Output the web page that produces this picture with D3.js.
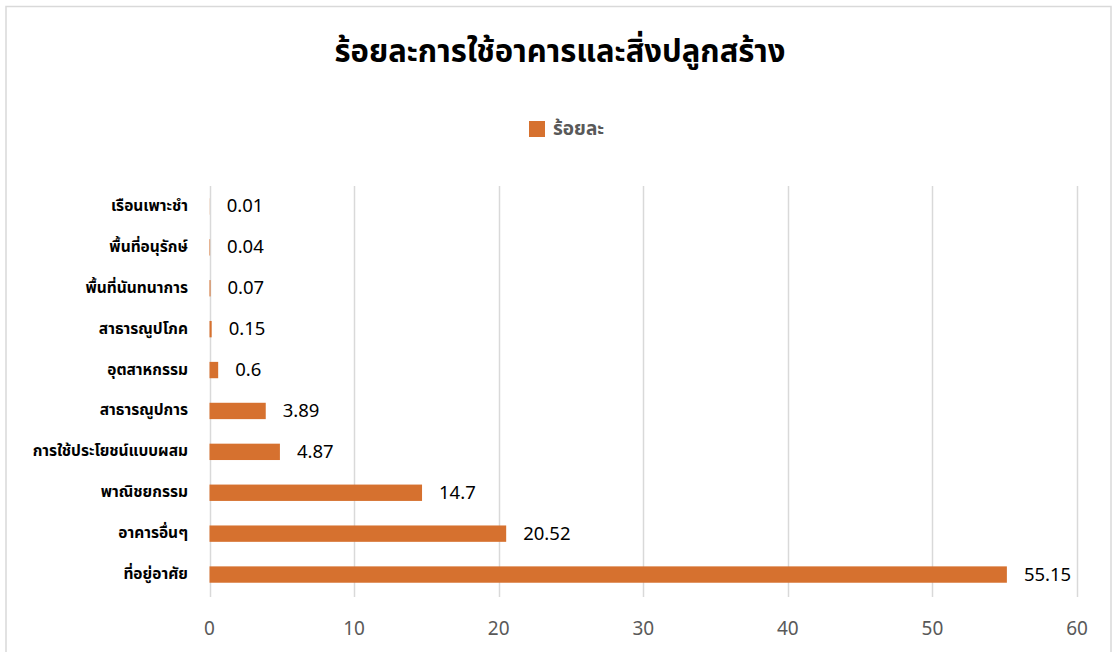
<!DOCTYPE html>
<html><head><meta charset="utf-8">
<script src="https://cdn.jsdelivr.net/npm/d3@7"></script>
<style>
body{margin:0;background:#fff;}
svg{display:block;}
text{font-family:Tahoma,"Noto Sans Thai","Leelawadee UI","Noto Sans","DejaVu Sans",sans-serif;}
</style></head>
<body><svg id="c" width="1117" height="652"></svg>
<script>
const categories = ["เรือนเพาะชำ","พื้นที่อนุรักษ์","พื้นที่นันทนาการ","สาธารณูปโภค","อุตสาหกรรม","สาธารณูปการ","การใช้ประโยชน์แบบผสม","พาณิชยกรรม","อาคารอื่นๆ","ที่อยู่อาศัย"];
const values = [0.01,0.04,0.07,0.15,0.6,3.89,4.87,14.7,20.52,55.15];
const valueLabels = ["0.01","0.04","0.07","0.15","0.6","3.89","4.87","14.7","20.52","55.15"];
const tickValues = [0,10,20,30,40,50,60];
const title = "ร้อยละการใช้อาคารและสิ่งปลูกสร้าง";
const seriesName = "ร้อยละ";

const svg = d3.select("#c");
const barColor="#d6712f";
// chart border
svg.append("rect").attr("x",6).attr("y",6.5).attr("width",1105).attr("height",660)
  .attr("fill","#fff").attr("stroke","#d9d9d9").attr("stroke-width",1.5);

const m={left:209.5,right:1077,top:186,bottom:595};
const x=d3.scaleLinear().domain([0,60]).range([m.left,m.right]);
const y=d3.scaleBand().domain(categories).range([m.top,m.bottom]).paddingInner(0.6).paddingOuter(0.3);

// gridlines
svg.append("g").selectAll("line").data(tickValues).join("line")
  .attr("x1",d=>Math.round(x(d))+0.5).attr("x2",d=>Math.round(x(d))+0.5)
  .attr("y1",m.top).attr("y2",m.bottom+2)
  .attr("stroke","#d9d9d9").attr("stroke-width",1.5);

// x tick labels
svg.append("g").selectAll("text").data(tickValues).join("text")
  .attr("x",d=>x(d)).attr("y",629).attr("text-anchor","middle").attr("dominant-baseline","central")
  .attr("fill","#595959").attr("font-size",19).text(d=>d);

// bars
svg.append("g").selectAll("rect").data(values).join("rect")
  .attr("x",x(0)).attr("y",(d,i)=>y(categories[i]))
  .attr("width",d=>Math.max(0,x(d)-x(0))).attr("height",y.bandwidth())
  .attr("fill",barColor);

// value labels
svg.append("g").selectAll("text").data(values).join("text")
  .attr("x",d=>x(d)+17).attr("y",(d,i)=>y(categories[i])+y.bandwidth()/2)
  .attr("dominant-baseline","central").attr("fill","#000").attr("font-size",18.5)
  .text((d,i)=>valueLabels[i]);

// category labels
svg.append("g").selectAll("text").data(categories).join("text")
  .attr("x",188).attr("y",d=>y(d)+y.bandwidth()/2).attr("text-anchor","end")
  .attr("dominant-baseline","central").attr("fill","#000").attr("font-size",15.5).attr("font-weight","bold")
  .text(d=>d);

// title
svg.append("text").attr("x",560).attr("y",52).attr("text-anchor","middle").attr("dominant-baseline","central")
  .attr("font-size",31).attr("font-weight","bold").attr("fill","#000").text(title);

// legend
svg.append("rect").attr("x",529).attr("y",121).attr("width",16).attr("height",16).attr("fill",barColor);
svg.append("text").attr("x",553).attr("y",129).attr("dominant-baseline","central")
  .attr("font-size",19).attr("font-weight","bold").attr("fill","#595959").text(seriesName);
</script></body></html>
